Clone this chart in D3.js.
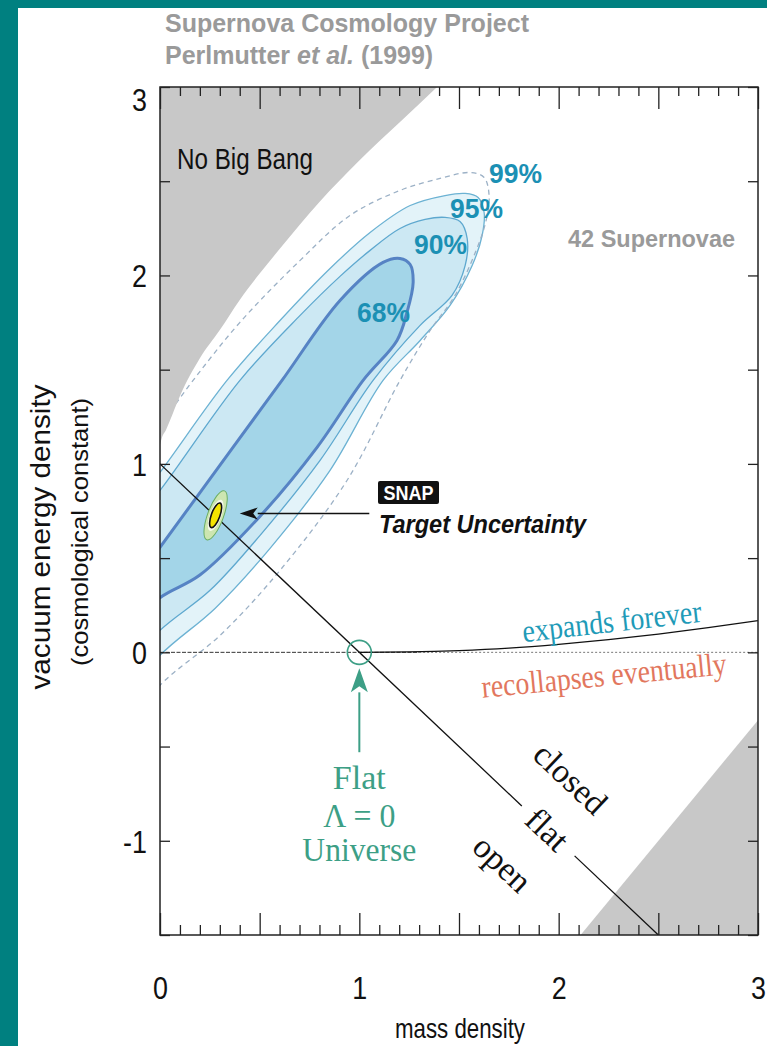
<!DOCTYPE html>
<html>
<head>
<meta charset="utf-8">
<script src="https://cdn.jsdelivr.net/npm/d3@7"></script>
<style>
  html, body { margin:0; padding:0; background:#fff; }
  svg { display:block; }
  text { font-family: "Liberation Sans", Arial, Helvetica, sans-serif; }
  .serif { font-family: "Liberation Serif", "Times New Roman", serif; }
</style>
</head>
<body>
<svg id="chart" width="767" height="1046"></svg>
<script>
// ===================== data =====================
const xTickLabels = [0, 1, 2, 3];
const yTickLabels = [3, 2, 1, 0, -1];
const xMajorTicks = [0, 0.5, 1, 1.5, 2, 2.5, 3];
const yMajorTicks = [-1.5, -1, -0.5, 0, 0.5, 1, 1.5, 2, 2.5, 3];
const xMinorTicks = [0.1,0.2,0.3,0.4,0.6,0.7,0.8,0.9,1.1,1.2,1.3,1.4,1.6,1.7,1.8,1.9,2.1,2.2,2.3,2.4,2.6,2.7,2.8,2.9];

const contourNames = ["68%", "90%", "95%", "99%"];

// confidence contours (mass density, vacuum energy density)
const contour68 = [[-0.2,0.27],[0,0.557],[0.366,1.088],[0.612,1.443],[0.903,1.867],[1.119,2.069],[1.204,2.09],[1.255,2.058],[1.27,1.963],[1.239,1.804],[1.189,1.655],[1.019,1.443],[0.788,1.088],[0.5,0.72],[0.2,0.41],[0,0.29],[-0.2,0.1]];
const contour90 = [[-0.2,0.6],[0,0.859],[0.401,1.443],[0.703,1.788],[0.903,1.995],[1.054,2.133],[1.204,2.249],[1.33,2.297],[1.43,2.308],[1.505,2.286],[1.541,2.196],[1.531,2.053],[1.465,1.894],[1.305,1.735],[1.069,1.443],[0.803,1.019],[0.502,0.621],[0.251,0.329],[0,0.117],[-0.2,-0.12]];
const contour95 = [[-0.2,0.68],[0,0.955],[0.336,1.443],[0.602,1.761],[0.853,2.037],[1.054,2.228],[1.255,2.371],[1.43,2.424],[1.531,2.435],[1.596,2.414],[1.626,2.334],[1.616,2.212],[1.566,2.053],[1.455,1.841],[1.305,1.655],[1.119,1.443],[0.853,0.966],[0.552,0.552],[0.276,0.233],[0,-0.016],[-0.2,-0.28]];
const contour99 = [[-0.2,0.92],[0,1.204],[0.166,1.443],[0.401,1.751],[0.703,2.08],[0.953,2.318],[1.204,2.451],[1.405,2.515],[1.556,2.546],[1.626,2.52],[1.651,2.424],[1.636,2.292],[1.586,2.133],[1.48,1.894],[1.355,1.708],[1.204,1.443],[0.938,0.912],[0.602,0.435],[0.301,0.09],[0,-0.175],[-0.2,-0.45]];

// "No Big Bang" boundary
const noBigBangBoundary = [[0,1.1],[0.01,1.14],[0.03,1.18],[0.05,1.23],[0.1,1.36],[0.2,1.56],[0.3,1.71],[0.4,1.87],[0.5,2.01],[0.6,2.14],[0.8,2.39],[1.0,2.61],[1.2,2.81],[1.4,3.01]];
// lower-right excluded region boundary
const lowerRightBoundary = [[2.11,-1.5],[3,-0.36]];
// flat universe line (with gap for the "flat" label)
const flatLineA = [[0,1],[1.815,-0.815]];
const flatLineB = [[2.08,-1.08],[2.5,-1.5]];
// expands forever / recollapses boundary
const expansionBoundary = [[1,0],[1.25,0.002],[1.5,0.009],[1.75,0.022],[2,0.042],[2.25,0.067],[2.5,0.097],[2.75,0.131],[3,0.168]];
const lambdaZeroDark = [[0,0],[1.3,0]];
const lambdaZeroDotted = [[1.3,0],[3,0]];
// SNAP target and flat Lambda=0 point
const snapCenter = [0.279, 0.727];
const flatLambdaZero = [1, 0];
const snapArrow = [[1.05,0.737],[0.40,0.737]];
const flatArrow = [[1,-0.53],[1,-0.085]];

// ===================== drawing =====================
const svg = d3.select("#chart");
svg.append("rect").attr("width",767).attr("height",1046).attr("fill","#008080");
svg.append("rect").attr("x",18).attr("y",8).attr("width",749).attr("height",1038).attr("fill","#ffffff");

const x = d3.scaleLinear().domain([0,3]).range([160,758]);
const y = d3.scaleLinear().domain([-1.5,3]).range([935,87]);

svg.append("defs").append("clipPath").attr("id","plotclip").append("rect")
  .attr("x",x(0)).attr("y",y(3)).attr("width",x(3)-x(0)).attr("height",y(-1.5)-y(3));

const plot = svg.append("g").attr("clip-path","url(#plotclip)");
const closedLine = d3.line().x(d=>x(d[0])).y(d=>y(d[1])).curve(d3.curveCatmullRomClosed.alpha(0.5));
const straight = d3.line().x(d=>x(d[0])).y(d=>y(d[1]));
const smooth = d3.line().x(d=>x(d[0])).y(d=>y(d[1])).curve(d3.curveMonotoneX);

// contours
plot.append("path").attr("d",closedLine(contour95)).attr("fill","#e3f3f9").attr("stroke","#6cb2d3").attr("stroke-width",1.3);
plot.append("path").attr("d",closedLine(contour90)).attr("fill","#cce8f3").attr("stroke","#5ea8cf").attr("stroke-width",1.3);
plot.append("path").attr("d",closedLine(contour68)).attr("fill","#a3d5e8").attr("stroke","#5683c4").attr("stroke-width",3);
plot.append("path").attr("d",closedLine(contour99)).attr("fill","none").attr("stroke","#9cb1c6").attr("stroke-width",1.3).attr("stroke-dasharray","5,4");

// gray excluded regions
plot.append("path")
  .attr("d", d3.area().x(d=>x(d[0])).y0(y(3.3)).y1(d=>y(d[1])).curve(d3.curveMonotoneX)(noBigBangBoundary))
  .attr("fill","#c8c8c8");
plot.append("path")
  .attr("d", d3.area().x(d=>x(d[0])).y0(y(-1.7)).y1(d=>y(d[1]))(lowerRightBoundary))
  .attr("fill","#c8c8c8");

// lambda = 0 line and expansion boundary
plot.append("path").attr("d",straight(lambdaZeroDark)).attr("fill","none").attr("stroke","#333").attr("stroke-width",1).attr("stroke-dasharray","4,1.5");
plot.append("path").attr("d",straight(lambdaZeroDotted)).attr("fill","none").attr("stroke","#777").attr("stroke-width",1).attr("stroke-dasharray","2,2");
plot.append("path").attr("d",smooth(expansionBoundary)).attr("fill","none").attr("stroke","#111").attr("stroke-width",1.2);

// flat line
plot.append("path").attr("d",straight(flatLineA)).attr("fill","none").attr("stroke","#111").attr("stroke-width",1.3);
plot.append("path").attr("d",straight(flatLineB)).attr("fill","none").attr("stroke","#111").attr("stroke-width",1.3);

// SNAP ellipse
const sx = x(snapCenter[0]), sy = y(snapCenter[1]);
const snapG = plot.append("g").attr("transform",`translate(${sx},${sy}) rotate(20)`);
snapG.append("ellipse").attr("rx",8).attr("ry",26).attr("fill","#cde6b1").attr("stroke","#6aae63").attr("stroke-width",1);
snapG.append("ellipse").attr("rx",5.8).attr("ry",16.5).attr("fill","#f6faee");
snapG.append("ellipse").attr("rx",4.3).attr("ry",13).attr("fill","#f5e400").attr("stroke","#111").attr("stroke-width",1.6);

// green circle at flat lambda=0
const green = "#3d9f86";
plot.append("circle").attr("cx",x(flatLambdaZero[0])).attr("cy",y(flatLambdaZero[1])).attr("r",12)
  .attr("fill","none").attr("stroke",green).attr("stroke-width",1.6);

// arrows
function arrow(g, pts, color, len, half, width){
  const [x0,y0] = [x(pts[0][0]), y(pts[0][1])];
  const [x1,y1] = [x(pts[1][0]), y(pts[1][1])];
  const ang = Math.atan2(y1-y0, x1-x0);
  const bx = x1 - len*Math.cos(ang), by = y1 - len*Math.sin(ang);
  g.append("line").attr("x1",x0).attr("y1",y0).attr("x2",bx).attr("y2",by).attr("stroke",color).attr("stroke-width",width);
  const px = -Math.sin(ang)*half, py = Math.cos(ang)*half;
  g.append("path").attr("d",`M${x1},${y1}L${bx+px},${by+py}L${bx+len*0.25*Math.cos(ang)},${by+len*0.25*Math.sin(ang)}L${bx-px},${by-py}Z`).attr("fill",color);
}
arrow(svg, snapArrow, "#111", 18, 6, 1.6);
arrow(svg, flatArrow, green, 24, 8.5, 2);

// frame
svg.append("rect").attr("x",x(0)).attr("y",y(3)).attr("width",x(3)-x(0)).attr("height",y(-1.5)-y(3))
  .attr("fill","none").attr("stroke","#222").attr("stroke-width",1.5);

// ticks
function tickStyle(g){ g.select(".domain").remove(); g.selectAll("line").attr("stroke","#222").attr("stroke-width",1.3); }
svg.append("g").attr("transform",`translate(0,${y(-1.5)})`).call(d3.axisBottom(x).tickValues(xMinorTicks).tickSize(-10).tickFormat("")).call(tickStyle);
svg.append("g").attr("transform",`translate(0,${y(-1.5)})`).call(d3.axisBottom(x).tickValues(xMajorTicks).tickSize(-22).tickFormat("")).call(tickStyle);
svg.append("g").attr("transform",`translate(0,${y(3)})`).call(d3.axisTop(x).tickValues(xMinorTicks).tickSize(-9).tickFormat("")).call(tickStyle);
svg.append("g").attr("transform",`translate(0,${y(3)})`).call(d3.axisTop(x).tickValues(xMajorTicks).tickSize(-22).tickFormat("")).call(tickStyle);
svg.append("g").attr("transform",`translate(${x(0)},0)`).call(d3.axisLeft(y).tickValues(yMajorTicks).tickSize(-10).tickFormat("")).call(tickStyle);
svg.append("g").attr("transform",`translate(${x(3)},0)`).call(d3.axisRight(y).tickValues(yMajorTicks).tickSize(-10).tickFormat("")).call(tickStyle);

// tick labels (tall, narrow glyphs like the reference)
const sxk = 0.84;
const xl = svg.append("g").attr("transform",`translate(0,${y(-1.5)})`)
  .call(d3.axisBottom(x).tickValues(xTickLabels).tickSize(0).tickPadding(43).tickFormat(d=>String(d)));
xl.select(".domain").remove();
xl.selectAll("text").attr("font-size",32).attr("fill","#111").attr("font-family","Liberation Sans, Arial, sans-serif")
  .attr("transform",`scale(${sxk},1)`).attr("y",41).attr("dy","0.71em");
const yl = svg.append("g").attr("transform",`translate(${x(0)},0)`)
  .call(d3.axisLeft(y).tickValues(yTickLabels).tickSize(0).tickPadding(13).tickFormat(d=>String(d)));
yl.select(".domain").remove();
yl.selectAll("text").attr("font-size",32).attr("fill","#111").attr("font-family","Liberation Sans, Arial, sans-serif")
  .attr("x",-13/sxk).attr("transform",`scale(${sxk},1)`)
  .attr("dy", d => d === 3 ? "0.72em" : "0.36em");

// axis titles
svg.append("text").attr("x",460).attr("y",1038).attr("text-anchor","middle").attr("font-size",28).attr("fill","#111")
  .attr("textLength",130).attr("lengthAdjust","spacingAndGlyphs").text("mass density");
svg.append("text").attr("transform","translate(50,537) rotate(-90)").attr("text-anchor","middle").attr("font-size",28).attr("fill","#111")
  .attr("textLength",305).attr("lengthAdjust","spacingAndGlyphs").text("vacuum energy density");
svg.append("text").attr("transform","translate(88,532) rotate(-90)").attr("text-anchor","middle").attr("font-size",24).attr("fill","#111")
  .attr("textLength",268).attr("lengthAdjust","spacingAndGlyphs").text("(cosmological constant)");

// title
svg.append("text").attr("x",165).attr("y",32).attr("font-size",25).attr("font-weight","bold").attr("fill","#9a9a9a")
  .text("Supernova Cosmology Project");
const t2 = svg.append("text").attr("x",165).attr("y",64).attr("font-size",25).attr("font-weight","bold").attr("fill","#9a9a9a");
t2.append("tspan").text("Perlmutter ");
t2.append("tspan").attr("font-style","italic").text("et al.");
t2.append("tspan").text(" (1999)");

// region labels
svg.append("text").attr("x",177).attr("y",169).attr("font-size",29).attr("fill","#111")
  .attr("textLength",136).attr("lengthAdjust","spacingAndGlyphs").text("No Big Bang");
svg.append("text").attr("x",568).attr("y",247).attr("font-size",24).attr("font-weight","bold").attr("fill","#9a9a9a")
  .attr("textLength",167).attr("lengthAdjust","spacingAndGlyphs").text("42 Supernovae");

// contour labels
const labelPos = [[383,322],[440,254],[476,218],[515,183]];
svg.selectAll("text.clab").data(contourNames).join("text").attr("class","clab")
  .attr("x",(d,i)=>labelPos[i][0]-26).attr("y",(d,i)=>labelPos[i][1])
  .attr("font-size",28).attr("font-weight","bold").attr("fill","#1b90b4")
  .attr("textLength",53).attr("lengthAdjust","spacingAndGlyphs").text(d=>d);

// SNAP label
svg.append("rect").attr("x",378).attr("y",481).attr("width",61).attr("height",23).attr("rx",2).attr("fill","#111");
svg.append("text").attr("x",408.5).attr("y",499.5).attr("text-anchor","middle").attr("font-size",20).attr("font-weight","bold").attr("fill","#fff")
  .attr("textLength",50).attr("lengthAdjust","spacingAndGlyphs").text("SNAP");
svg.append("text").attr("x",379).attr("y",533).attr("font-size",26).attr("font-weight","bold").attr("font-style","italic").attr("fill","#111")
  .attr("textLength",207).attr("lengthAdjust","spacingAndGlyphs").text("Target Uncertainty");

// expansion labels
svg.append("text").attr("class","serif").attr("transform","translate(613,632) rotate(-6.5)").attr("text-anchor","middle")
  .attr("font-size",32).attr("fill","#1f9bb8").attr("textLength",180).attr("lengthAdjust","spacingAndGlyphs").text("expands forever");
svg.append("text").attr("class","serif").attr("transform","translate(605,686) rotate(-5.5)").attr("text-anchor","middle")
  .attr("font-size",32).attr("fill","#e2775e").attr("textLength",246).attr("lengthAdjust","spacingAndGlyphs").text("recollapses eventually");

// Flat Lambda=0 Universe
[["Flat",789,53],["\u039B = 0",827,72],["Universe",861,114]].forEach(([t,yy,w])=>{
  svg.append("text").attr("class","serif").attr("x",x(1)).attr("y",yy).attr("text-anchor","middle")
    .attr("font-size",34).attr("fill",green).attr("textLength",w).attr("lengthAdjust","spacingAndGlyphs").text(t);
});

// closed / flat / open
const ang = Math.atan2(y(-1.5)-y(1), x(2.5)-x(0)) * 180/Math.PI;
[["closed",570,779],["flat",547,830],["open",502,864]].forEach(([t,cx,cy])=>{
  svg.append("text").attr("class","serif").attr("transform",`translate(${cx},${cy}) rotate(${ang})`)
    .attr("text-anchor","middle").attr("dy","0.32em").attr("font-size",34).attr("fill","#111").text(t);
});
</script>
</body>
</html>
